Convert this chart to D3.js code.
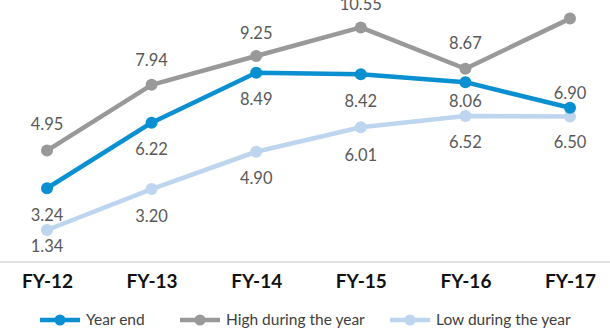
<!DOCTYPE html>
<html>
<head>
<meta charset="utf-8">
<script src="https://cdn.jsdelivr.net/npm/d3@7"></script>
<style>
  html, body { margin: 0; padding: 0; background: #fff; }
  svg { display: block; font-family: Lato, "Open Sans", sans-serif; }
</style>
</head>
<body>
<script>
const categories = ['FY-12', 'FY-13', 'FY-14', 'FY-15', 'FY-16', 'FY-17']
const yearEnd = [3.24, 6.22, 8.49, 8.42, 8.06, 6.90]
const highYear = [4.95, 7.94, 9.25, 10.55, 8.67, 10.95]
const lowYear = [1.34, 3.20, 4.90, 6.01, 6.52, 6.50]
const seriesNames = ['Year end', 'High during the year', 'Low during the year']

const width = 610
const height = 331

const series = [
  { name: seriesNames[0], values: yearEnd, color: '#0a8fd0', dy: [27, 27, 27, 27, 19, -14] },
  { name: seriesNames[1], values: highYear, color: '#999999', dy: [-26, -25, -23, -23, -26, -26] },
  { name: seriesNames[2], values: lowYear, color: '#bdd5ee', dy: [16, 27, 27, 28, 26, 26] }
]

const svg = d3.select('body').append('svg')
  .attr('width', width)
  .attr('height', height)

const x = d3.scalePoint()
  .domain(categories)
  .range([47, 570])

const y = d3.scaleLinear()
  .domain([0, 12])
  .range([259.5, -4.5])

// unit label, mostly off the top edge (as in the source)
svg.append('text')
  .attr('x', 12)
  .attr('y', -3)
  .attr('font-size', 15)
  .attr('fill', '#333')
  .text('(in Rs.)')

// baseline
svg.append('line')
  .attr('x1', 0).attr('x2', width)
  .attr('y1', 262).attr('y2', 262)
  .attr('stroke', '#d9d9d9')
  .attr('stroke-width', 1.5)

const xAxis = svg.append('g')
  .attr('transform', 'translate(0, 262)')
  .call(d3.axisBottom(x).tickSize(0).tickPadding(13))
xAxis.select('.domain').remove()
xAxis.selectAll('text')
  .attr('font-family', 'Lato, sans-serif')
  .attr('font-size', 19)
  .attr('font-weight', 'bold')
  .attr('fill', '#111')

const line = d3.line()
  .x((d, i) => x(categories[i]))
  .y(d => y(d))

// draw back to front: low, high, year end
const order = [series[2], series[1], series[0]]
order.forEach(s => {
  const g = svg.append('g')
  g.append('path')
    .datum(s.values)
    .attr('d', line)
    .attr('fill', 'none')
    .attr('stroke', s.color)
    .attr('stroke-width', 4.5)
    .attr('stroke-linejoin', 'round')
  g.selectAll('circle')
    .data(s.values)
    .join('circle')
    .attr('cx', (d, i) => x(categories[i]))
    .attr('cy', d => y(d))
    .attr('r', 6)
    .attr('fill', s.color)
})

order.forEach(s => {
  svg.append('g')
    .selectAll('text')
    .data(s.values)
    .join('text')
    .attr('x', (d, i) => x(categories[i]))
    .attr('y', (d, i) => y(d) + s.dy[i])
    .attr('dy', '0.35em')
    .attr('text-anchor', 'middle')
    .attr('font-size', 16.5)
    .attr('fill', '#595959')
    .text(d => d.toFixed(2))
})

// legend
const legendX = [40, 180, 390]
const legend = svg.append('g')
  .attr('transform', 'translate(0, 320)')
series.forEach((s, i) => {
  const g = legend.append('g')
    .attr('transform', `translate(${legendX[i]}, 0)`)
  g.append('line')
    .attr('x1', 0).attr('x2', 40)
    .attr('stroke', s.color)
    .attr('stroke-width', 4.5)
  g.append('circle')
    .attr('cx', 20)
    .attr('r', 5.5)
    .attr('fill', s.color)
  g.append('text')
    .attr('x', 46)
    .attr('dy', '0.35em')
    .attr('font-size', 15.5)
    .attr('fill', '#404040')
    .text(s.name)
})
</script>
</body>
</html>
